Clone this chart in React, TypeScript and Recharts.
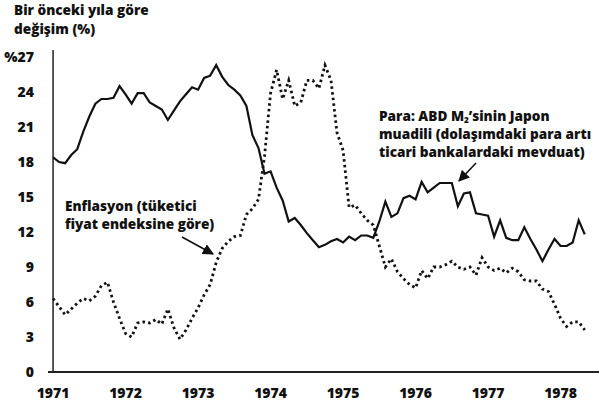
import { CartesianGrid, Line, LineChart, ReferenceLine, XAxis, YAxis } from "recharts";

// monthly, Jan 1971 -> May 1978 (year-over-year % change)
const moneyGrowth = [
  18.4, 18.0, 17.9, 18.6, 19.1, 20.6, 21.9, 23.0, 23.4, 23.4, 23.5, 24.5,
  23.8, 23.0, 23.9, 23.9, 23.1, 22.8, 22.5, 21.6, 22.4, 23.2, 23.8, 24.4,
  24.2, 25.2, 25.4, 26.3, 25.3, 24.6, 24.2, 23.7, 22.8, 20.3, 19.2, 17.0,
  17.2, 15.8, 14.7, 12.9, 13.2, 12.6, 11.9, 11.3, 10.7, 10.9, 11.2, 11.4,
  11.1, 11.6, 11.3, 11.7, 11.7, 11.5, 12.9, 14.6, 13.3, 13.6, 14.9, 15.1,
  14.8, 16.3, 15.4, 15.8, 16.2, 16.2, 16.2, 14.2, 15.3, 15.4, 13.6, 13.5,
  13.4, 11.6, 13.0, 11.5, 11.3, 11.3, 12.4, 11.4, 10.5, 9.5, 10.5, 11.4,
  10.8, 10.8, 11.1, 13.0, 11.8,
];

const inflation = [
  6.3, 5.6, 4.9, 5.4, 5.9, 6.3, 6.1, 6.5, 7.4, 7.7, 6.0, 4.6,
  3.3, 3.0, 4.2, 4.3, 4.2, 4.5, 4.1, 5.4, 3.8, 2.8, 3.6, 4.6,
  5.5, 6.6, 7.5, 9.4, 10.6, 11.2, 11.6, 11.7, 13.5, 14.0, 14.8, 18.5,
  23.9, 25.9, 23.4, 25.0, 22.8, 23.1, 25.0, 25.0, 24.3, 26.3, 25.0, 20.5,
  19.0, 14.1, 14.3, 13.6, 13.0, 12.6, 10.8, 9.0, 9.7, 8.6, 8.0, 7.5,
  7.2, 8.7, 8.0, 9.0, 9.0, 9.2, 9.5, 9.0, 8.8, 9.0, 8.3, 9.8,
  9.0, 8.7, 8.9, 8.5, 8.9, 8.6, 7.9, 7.8, 7.8, 7.1, 6.9, 5.8,
  4.6, 3.9, 4.3, 4.3, 3.6,
];

const yearTicks = [1971, 1972, 1973, 1974, 1975, 1976, 1977, 1978];
const valueTicks = [0, 3, 6, 9, 12, 15, 18, 21, 24, 27];

const data = moneyGrowth.map((m, i) => ({
  t: 1971 + i / 12,
  money: m,
  cpi: inflation[i],
}));

const FONT = "'Open Sans', Lato, sans-serif";
const INK = "#111";

const tickStyle = { fontSize: 14, fontWeight: 800, fill: INK, fontFamily: FONT } as const;

const note: React.CSSProperties = {
  position: "absolute",
  fontFamily: FONT,
  fontWeight: 800,
  fontSize: 13.6,
  lineHeight: "18px",
  color: INK,
  whiteSpace: "nowrap",
};

export default function App() {
  return (
    <div style={{ position: "absolute", left: 0, top: 0, width: 599, height: 406, background: "#fff" }}>
      <LineChart width={599} height={406} data={data} margin={{ top: 50, right: 0, left: 8, bottom: 4 }}>
        <CartesianGrid stroke="none" />
        <XAxis
          dataKey="t"
          type="number"
          domain={[1970.93, 1978.53]}
          allowDataOverflow
          ticks={yearTicks}
          tick={tickStyle}
          tickLine={false}
          tickMargin={10}
          axisLine={{ stroke: "#222", strokeWidth: 2 }}
          height={30}
        />
        <YAxis
          type="number"
          domain={[0, 27.6]}
          allowDataOverflow
          ticks={valueTicks}
          tick={tickStyle}
          tickFormatter={(v: number) => (v === 27 ? "%27" : String(v))}
          tickLine={false}
          tickMargin={8}
          axisLine={false}
          width={40}
        />
        <ReferenceLine x={1971} stroke="#222" strokeWidth={1.5} />
        <Line
          type="linear"
          dataKey="cpi"
          stroke={INK}
          strokeWidth={2.8}
          strokeDasharray="2.5 3.2"
          dot={false}
          isAnimationActive={false}
        />
        <Line
          type="linear"
          dataKey="money"
          stroke={INK}
          strokeWidth={2.2}
          dot={false}
          isAnimationActive={false}
        />
      </LineChart>

      <div style={{ ...note, left: 14, top: 0, lineHeight: "19px" }}>
        Bir önceki yıla göre
        <br />
        değişim (%)
      </div>

      <div style={{ ...note, left: 65, top: 197 }}>
        Enflasyon (tüketici
        <br />
        fiyat endeksine göre)
      </div>

      <div style={{ ...note, left: 379, top: 107 }}>
        Para: ABD M<span style={{ fontSize: 8, verticalAlign: "-2px", lineHeight: 0 }}>2</span>’sinin Japon
        <br />
        muadili (dolaşımdaki para artı
        <br />
        ticari bankalardaki mevduat)
      </div>

      <svg width={599} height={406} style={{ position: "absolute", left: 0, top: 0, pointerEvents: "none" }}>
        <defs>
          <marker id="head" viewBox="0 0 10 10" refX="9" refY="5" markerWidth="7" markerHeight="7" orient="auto">
            <path d="M0,0 L10,5 L0,10 z" fill={INK} />
          </marker>
        </defs>
        <line x1={182} y1={237} x2={213} y2={254} stroke={INK} strokeWidth={1.6} markerEnd="url(#head)" />
        <line x1={476} y1={163} x2={459} y2={181} stroke={INK} strokeWidth={1.6} markerEnd="url(#head)" />
      </svg>
    </div>
  );
}
